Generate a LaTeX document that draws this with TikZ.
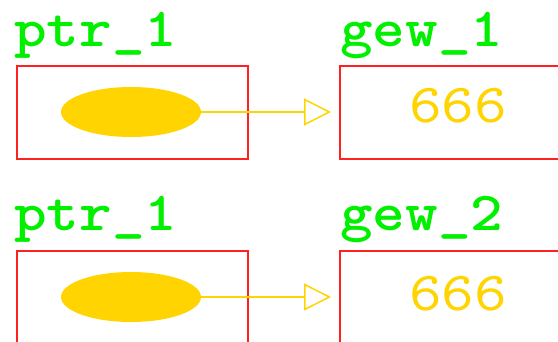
\documentclass[tikz,border=0pt]{standalone}
\usepackage{fontspec}
\newfontfamily\lblfont{lmmonolt10-bold.otf}[FakeStretch=1.13]
\newfontfamily\valfont{lmmono10-regular.otf}[FakeStretch=1.13]
\usetikzlibrary{shapes.geometric,arrows.meta}
\definecolor{lblgreen}{HTML}{00F000}
\definecolor{boxred}{HTML}{FF2020}
\definecolor{gold}{HTML}{FFD400}
\begin{document}
\begin{tikzpicture}[x=1pt,y=-1pt,
  cell/.style={draw=boxred,line width=2pt,minimum width=231pt,minimum height=93pt,inner sep=0pt,anchor=north west},
  lbl/.style={text=lblgreen,font=\lblfont\fontsize{55}{60}\selectfont,anchor=base west,inner sep=0pt},
  val/.style={text=gold,font=\valfont\fontsize{55}{60}\selectfont,anchor=base,inner sep=0pt},
  ptr/.style={ellipse,fill=gold,minimum width=140pt,minimum height=50pt,inner sep=0pt},
  link/.style={draw=gold,line width=1.5pt,-{Triangle[open,length=27pt,width=27pt,line width=1.5pt]},shorten >=8pt}]
\useasboundingbox (0,0) rectangle (558,341);
\clip (0,0) rectangle (558,341);
\fill[white] (0,0) rectangle (558,341);
\node[cell] (b1) at (16,65) {};
\node[cell] (c1) at (339,65) {};
\node[cell] (b2) at (16,250) {};
\node[cell] (c2) at (339,250) {};
\node[ptr] (p1) at (131,112) {};
\node[ptr] (p2) at (131,297) {};
\node[lbl] (l1) at (14,46) {ptr\_1};
\node[lbl] (l2) at (340,46) {gew\_1};
\node[lbl] (l3) at (14,230) {ptr\_1};
\node[lbl] (l4) at (340,230) {gew\_2};
\node[val] (v1) at (458,122) {666};
\node[val] (v2) at (458,310) {666};
\draw[link] (p1.east) -- (p1.east -| c1.west);
\draw[link] (p2.east) -- (p2.east -| c2.west);
\end{tikzpicture}
\end{document}
